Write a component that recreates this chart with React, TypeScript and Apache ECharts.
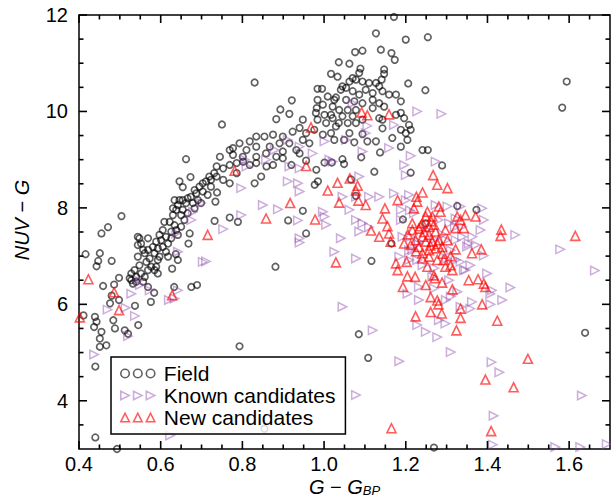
import React, { useEffect, useRef } from 'react';
import * as echarts from 'echarts';

const FONT = '"Liberation Sans", Arial, Helvetica, sans-serif';

// axis ranges and tick values
const X_MIN = 0.4;
const X_MAX = 1.7;
const Y_MIN = 3;
const Y_MAX = 12;
const xMajorTicks = [0.4, 0.6, 0.8, 1.0, 1.2, 1.4, 1.6];
const xMinorTicks = [0.45, 0.5, 0.55, 0.65, 0.7, 0.75, 0.85, 0.9, 0.95, 1.05, 1.1, 1.15, 1.25, 1.3, 1.35, 1.45, 1.5, 1.55, 1.65];
const yMajorTicks = [4, 6, 8, 10, 12];
const yMinorTicks = [3.5, 4.5, 5, 5.5, 6.5, 7, 7.5, 8.5, 9, 9.5, 10.5, 11, 11.5];

const seriesNames = ['Field', 'Known candidates', 'New candidates'];

// Field stars: [G - G_BP, NUV - G]
const fieldData = [
  [0.830,10.60],[0.750,9.73],[0.662,9.01],[0.893,10.04],[0.921,10.23],[0.883,9.84],[0.915,9.95],[0.984,10.47],[0.995,10.47],[1.017,10.78],[1.036,11.02],[1.033,10.72],[0.984,10.24],[1.009,10.31],[1.029,10.29],[0.982,10.07],[0.997,10.14],[1.021,10.10],[0.980,9.97],[1.001,9.93],[1.021,9.86],[1.029,9.69],[1.005,9.76],[0.984,9.83],[0.948,9.83],[0.940,9.66],[0.923,9.58],[0.956,9.55],[0.976,9.62],[0.997,9.52],[1.025,9.41],[0.899,9.48],[0.875,9.52],[0.854,9.48],[0.834,9.48],[0.818,9.38],[0.793,9.34],[0.777,9.24],[0.745,9.06],[0.769,9.20],[0.810,9.20],[0.834,9.27],[0.867,9.27],[0.891,9.34],[0.915,9.34],[0.948,9.41],[0.964,9.34],[0.899,9.17],[0.858,9.13],[0.834,9.06],[0.801,9.06],[0.777,9.10],[0.883,9.06],[0.932,9.20],
  [1.171,11.96],[1.127,11.62],[1.200,11.49],[1.254,11.54],[1.076,11.23],[1.094,11.26],[1.139,11.28],[1.165,11.21],[1.173,11.07],[1.062,10.99],[1.089,10.89],[1.086,10.80],[1.070,10.69],[1.078,10.66],[1.062,10.62],[1.094,10.62],[1.110,10.59],[1.127,10.59],[1.147,10.87],[1.147,10.78],[1.141,10.66],[1.135,10.52],[1.045,10.52],[1.041,10.45],[1.054,10.49],[1.070,10.42],[1.086,10.35],[1.102,10.45],[1.119,10.38],[1.143,10.42],[1.159,10.35],[1.025,10.24],[1.054,10.24],[1.074,10.21],[1.094,10.17],[1.119,10.24],[1.135,10.17],[1.147,10.10],[1.176,10.35],[1.188,10.21],[1.206,10.58],[1.248,10.44],[1.037,10.03],[1.058,10.03],[1.078,10.03],[1.017,9.93],[1.045,9.90],[1.070,9.90],[1.036,9.76],[1.058,9.76],[1.078,9.76],[1.094,9.83],[1.119,10.07],[1.135,9.86],[1.143,9.83],[1.176,9.93],[1.188,9.97],[1.196,9.86],[1.208,9.72],[1.212,9.62],[1.188,9.62],[1.200,9.55],[1.143,9.65],[1.167,9.45],[1.188,9.27],[1.204,9.41],[1.127,9.38],[1.106,9.38],[1.074,9.36],[1.062,9.55],[1.094,9.53],[1.017,9.55],[1.049,9.41],[1.137,9.15],[1.241,9.20],[1.254,9.20],[1.091,9.05],[1.045,9.01],[1.594,10.62],[1.583,10.08],
  [0.956,8.98],[0.940,9.13],[0.737,8.86],[0.753,8.82],[0.769,8.89],[0.786,8.93],[0.802,8.96],[0.818,8.89],[0.834,8.93],[0.859,8.86],[0.737,8.65],[0.753,8.58],[0.769,8.51],[0.786,8.72],[0.830,8.51],[0.846,8.65],[0.875,8.89],[0.899,9.03],[0.920,8.89],[0.981,8.79],[1.001,8.94],[0.985,8.55],[0.977,8.48],[0.948,7.94],[0.956,7.47],[0.912,7.74],[0.881,6.78],[0.769,7.80],[0.789,7.71],
  [1.019,8.94],[1.049,8.91],[1.123,8.75],[1.212,8.73],[1.289,8.88],[1.066,8.59],[1.078,8.25],[1.193,7.76],[1.326,8.04],[1.373,7.96],[1.165,7.26],[1.116,6.90],[1.249,7.68],[1.085,5.38],[1.108,4.89],[1.639,5.41],[1.269,3.03],
  [0.673,8.64],[0.646,8.55],[0.654,8.43],[0.504,7.83],[0.471,7.60],[0.455,7.47],[0.416,7.04],[0.451,7.06],[0.447,6.90],[0.443,6.79],[0.480,6.90],[0.498,6.55],[0.459,6.38],[0.486,6.41],[0.480,6.18],[0.476,6.02],[0.498,6.09],[0.537,5.97],[0.576,6.05],[0.584,6.24],[0.633,6.36],[0.675,6.36],[0.689,6.40],[0.628,6.74],[0.671,7.47],[0.668,7.26],[0.732,7.73],[0.738,8.32],[0.734,8.13],
  [0.528,6.64],[0.536,6.71],[0.524,6.54],[0.540,6.57],[0.552,6.64],[0.548,6.81],[0.540,6.47],[0.557,6.47],[0.561,6.57],[0.569,6.71],[0.565,6.88],[0.573,6.95],[0.561,7.06],[0.569,7.13],[0.544,6.99],[0.577,6.78],[0.589,6.78],[0.593,6.92],[0.585,7.06],[0.581,7.19],[0.589,7.30],[0.601,7.33],[0.597,7.44],[0.605,7.19],[0.613,7.09],[0.618,6.99],[0.597,6.99],[0.593,7.16],[0.605,7.54],[0.613,7.40],[0.618,7.26],[0.626,7.37],[0.626,7.51],[0.634,7.64],[0.622,7.71],[0.609,7.71],[0.630,7.85],[0.638,7.96],[0.630,7.99],[0.642,8.06],[0.650,7.85],[0.638,7.54],[0.642,7.44],[0.650,7.61],[0.658,7.75],[0.654,7.96],[0.662,8.10],[0.666,8.20],[0.674,8.23],[0.679,8.10],[0.687,8.30],[0.691,8.16],[0.683,8.37],[0.695,8.44],[0.703,8.34],[0.703,8.51],[0.711,8.55],[0.719,8.65],[0.723,8.58],[0.731,8.72],[0.723,8.44],[0.715,8.27],[0.699,8.10],[0.683,7.99],[0.666,7.89],[0.654,8.16],[0.646,8.16],[0.634,8.16],[0.544,7.40],[0.544,7.23],[0.548,7.37],[0.569,7.37],[0.552,7.26],[0.557,7.13],[0.528,6.50],[0.532,6.43],[0.569,6.36],[0.585,6.71],[0.593,6.64],
  [0.411,5.77],[0.439,5.74],[0.443,5.64],[0.437,5.53],[0.455,5.43],[0.451,5.29],[0.467,5.15],[0.451,5.12],[0.484,5.67],[0.488,5.50],[0.512,5.46],[0.545,5.57],[0.520,5.39],[0.440,4.71],[0.440,3.24],[0.793,5.13],[0.854,3.42],[0.493,3.00],[0.642,6.92],[0.637,7.04],
];

// Known candidates
const knownData = [
  [0.437,4.96],[0.520,5.34],[0.537,5.76],[0.514,5.93],[0.470,5.89],[0.623,3.28],[0.620,6.09],
  [0.545,6.50],[0.549,6.40],[0.528,6.22],[0.573,6.29],[0.642,7.09],[0.638,7.47],[0.675,7.75],[0.679,7.92],[0.699,8.10],[0.703,6.88],[0.711,6.89],[0.642,6.29],[0.634,6.12],
  [0.806,9.00],[0.858,9.00],[0.972,9.13],[0.797,8.41],[0.850,8.06],[0.887,7.97],[0.911,8.55],[0.936,8.51],[0.940,8.34],[0.936,7.74],[0.797,7.85],[0.753,7.56],[0.997,7.92],[1.001,7.82],[1.005,7.65],[0.940,7.37],[0.940,7.28],[1.025,7.09],
  [0.879,9.20],[0.911,9.41],[0.940,9.27],[1.001,9.38],[1.054,9.41],[0.915,8.86],[0.940,8.82],[0.810,8.86],[1.021,8.96],
  [1.228,10.00],[1.287,9.95],[1.106,9.70],[1.171,9.72],[1.159,9.24],[1.094,9.17],[1.212,9.08],[1.070,10.17],[1.102,9.55],[1.013,9.00],[1.086,8.65],[1.196,8.89],[1.200,8.68],[1.273,8.96],[1.045,8.23],[1.110,8.23],[1.135,8.23],[1.171,8.30],[1.208,8.27],
  [1.078,8.23],[1.200,8.16],[1.062,7.96],[1.078,7.75],[1.094,7.68],[1.086,7.51],[1.041,7.37],[1.078,6.95],[1.188,7.96],[1.188,7.75],[1.273,8.06],[1.302,8.03],[1.334,8.03],[1.387,7.99],[1.391,7.75],[1.383,7.54],[1.468,7.44],[1.578,7.14],[1.663,6.70],[1.371,7.23],[1.391,7.01],[1.346,6.71],[1.399,6.64],[1.456,6.35],[1.411,6.29],[1.436,6.09],[1.407,6.00],[1.232,6.09],[1.204,6.22],[1.045,5.95],[1.192,7.40],[1.208,7.12],[1.184,6.99],[1.228,6.92],[1.241,6.81],[1.322,7.33],[1.338,7.40],[1.310,7.12],[1.334,6.88],[1.358,6.81],[1.306,6.50],[1.326,6.26],[1.362,6.05],[1.281,7.75],[1.306,7.68],[1.110,7.60],[1.210,7.95],[1.320,7.60],[1.250,7.55],[1.270,7.35],[1.290,7.45],[1.230,7.25],[1.350,7.20],[1.300,6.95],[1.270,6.75],
  [1.220,7.89],[1.212,7.40],[1.232,7.30],[1.216,7.12],[1.208,6.92],[1.342,6.71],[1.407,6.22],[1.298,6.09],[1.310,6.16],[1.334,5.95],[1.269,6.33],[1.232,6.36],[1.322,7.78],[1.338,7.61],[1.363,7.40],[1.354,7.26],[1.298,7.33],[1.322,6.92],[1.265,6.57],
  [1.119,5.46],[1.228,5.57],[1.249,5.43],[1.277,5.32],[1.281,5.67],[1.297,5.60],[1.310,5.01],[1.184,4.82],[1.078,4.12],[1.410,4.80],[1.429,4.59],[1.415,3.69],[1.413,3.09],[1.631,4.11],[1.566,3.04],[1.627,3.04],[1.692,3.10],[1.358,5.91],
];

// New candidates
const newData = [
  [0.402,5.73],[0.423,6.52],[0.486,6.25],[0.498,5.88],[0.628,6.19],[0.715,7.44],[0.781,8.77],[0.968,9.67],[0.858,7.78],[0.917,8.10],[0.978,7.76],[0.956,8.87],[1.009,8.36],[1.033,8.52],[1.037,8.11],[1.029,6.87],[1.092,9.98],[1.106,9.92],[1.159,9.94],
  [1.063,8.61],[1.082,8.46],[1.078,8.36],[1.084,8.15],[1.102,8.06],
  [1.267,8.68],[1.277,8.48],[1.302,8.41],[1.180,8.16],[1.149,7.99],[1.143,7.78],[1.155,7.62],[1.115,7.53],[1.135,7.40],[1.159,7.47],[1.163,7.30],[1.176,6.85],[1.180,6.71],[1.204,6.58],[1.223,6.57],[1.193,6.36],[1.202,6.88],[1.196,7.26],[1.212,7.23],[1.226,8.23],[1.241,8.32],[1.228,8.13],[1.220,7.99],[1.253,7.92],[1.249,7.82],[1.265,7.82],[1.281,8.03],[1.285,7.92],[1.216,7.68],[1.216,7.54],[1.232,7.57],[1.241,7.68],[1.257,7.61],[1.269,7.65],[1.273,7.51],[1.257,7.44],[1.241,7.40],[1.224,7.33],[1.249,7.30],[1.265,7.30],[1.281,7.33],[1.297,7.54],[1.302,7.33],[1.289,7.19],[1.273,7.16],[1.257,7.12],[1.241,7.06],[1.232,7.19],[1.257,6.99],[1.277,6.92],[1.293,6.92],[1.297,6.78],[1.310,6.81],[1.314,6.71],[1.253,6.78],[1.269,6.60],[1.271,6.54],[1.289,6.45],[1.322,7.58],[1.326,7.82],[1.334,7.75],[1.342,7.58],[1.346,7.85],[1.371,7.82],[1.322,7.14],[1.362,7.06],[1.385,7.14],[1.434,7.55],[1.432,7.42],[1.615,7.42],[1.354,6.50],[1.377,6.52],[1.391,6.43],[1.395,6.36],[1.314,6.31],[1.249,6.40],[1.261,6.15],[1.277,6.08],[1.334,5.91],[1.387,6.00],[1.280,6.00],
  [1.245,7.50],[1.262,7.72],[1.236,7.62],[1.278,7.25],[1.225,7.10],[1.310,7.00],[1.240,6.95],[1.290,7.05],[1.205,7.45],[1.260,7.22],
  [1.224,5.75],[1.261,5.84],[1.288,5.81],[1.334,5.72],[1.324,5.46],[1.424,5.66],[1.499,4.87],[1.395,4.44],[1.464,4.28],[1.165,3.43],[1.409,3.37],
];

const FIELD_COLOR = 'rgba(0,0,0,0.78)';
const KNOWN_COLOR = 'rgba(140,70,170,0.55)';
const NEW_COLOR = 'rgba(255,0,0,0.8)';
const TICK_COLOR = '#000';
const TICK_WIDTH = 1.6;
const MAJOR_LEN = 8;
const MINOR_LEN = 4.5;

// legend icons: three symbols each
const circleIcon =
  'path://M0,4.25A4.25,4.25 0 1,0 8.5,4.25A4.25,4.25 0 1,0 0,4.25Z' +
  'M12.75,4.25A4.25,4.25 0 1,0 21.25,4.25A4.25,4.25 0 1,0 12.75,4.25Z' +
  'M25.5,4.25A4.25,4.25 0 1,0 34,4.25A4.25,4.25 0 1,0 25.5,4.25Z';
const rightTriIcon =
  'path://M0,0L8.5,4.25L0,8.5Z M12.75,0L21.25,4.25L12.75,8.5Z M25.5,0L34,4.25L25.5,8.5Z';
const upTriIcon =
  'path://M4.25,0L8.5,8.5L0,8.5Z M17,0L21.25,8.5L12.75,8.5Z M29.75,0L34,8.5L25.5,8.5Z';

export default function App() {
  const ref = useRef<HTMLDivElement>(null);

  useEffect(() => {
    if (!ref.current) return;
    const chart = echarts.init(ref.current, null, { renderer: 'svg', width: 611, height: 497 });

    const option: any = {
      animation: false,
      backgroundColor: '#fff',
      grid: {
        left: 79, right: 1, top: 15, bottom: 48,
        containLabel: false, outerBoundsMode: 'none',
        show: true, borderColor: '#000', borderWidth: 1.5, backgroundColor: 'transparent',
      },
      xAxis: {
        type: 'value', min: X_MIN, max: X_MAX, interval: 0.2,
        splitLine: { show: false },
        axisLine: { show: false, onZero: false },
        axisTick: { show: false },
        axisLabel: {
          fontFamily: FONT, fontSize: 20, color: '#000', margin: 5, showMaxLabel: false,
          formatter: (v: number) => (v > 1.65 ? '' : v.toFixed(1)),
        },
        name: '{i|G} − {i|G}{sub|BP}',
        nameLocation: 'middle',
        nameGap: 28,
        nameMoveOverlap: false,
        nameTextStyle: {
          fontFamily: FONT, fontSize: 20, color: '#000', lineHeight: 20,
          rich: {
            i: { fontFamily: FONT, fontSize: 20, fontStyle: 'italic', color: '#000', lineHeight: 20 },
            sub: { fontFamily: FONT, fontSize: 13, fontStyle: 'italic', color: '#000', lineHeight: 8, verticalAlign: 'bottom' },
          },
        },
      },
      yAxis: {
        type: 'value', min: Y_MIN, max: Y_MAX, interval: 1,
        splitLine: { show: false },
        axisLine: { show: false, onZero: false },
        axisTick: { show: false },
        axisLabel: {
          fontFamily: FONT, fontSize: 20, color: '#000', margin: 11,
          formatter: (v: number) => (Math.round(v) % 2 === 0 ? String(v) : ''),
        },
        name: '{i|NUV} − {i|G}',
        nameLocation: 'middle',
        nameGap: 47,
        nameMoveOverlap: false,
        nameTextStyle: {
          fontFamily: FONT, fontSize: 20, color: '#000', padding: [0, 0, 0, 24],
          rich: { i: { fontFamily: FONT, fontSize: 20, fontStyle: 'italic', color: '#000' } },
        },
      },
      legend: {
        left: 111,
        top: 357,
        orient: 'vertical',
        selectedMode: false,
        backgroundColor: 'rgba(255,255,255,0.8)',
        borderColor: '#000',
        borderWidth: 1.5,
        borderRadius: 0,
        padding: [6, 10, 6, 9],
        itemGap: 1,
        itemWidth: 34,
        itemHeight: 8.5,
        itemStyle: { borderWidth: 1.6 },
        textStyle: { fontFamily: FONT, fontSize: 21, color: '#000', lineHeight: 21, padding: [0, 0, 0, 4] },
        z: 20,
        data: [
          { name: seriesNames[0], icon: circleIcon },
          { name: seriesNames[1], icon: rightTriIcon },
          { name: seriesNames[2], icon: upTriIcon },
        ],
      },
      series: [
        {
          type: 'scatter', name: seriesNames[0], data: fieldData,
          symbol: 'circle', symbolSize: 6.5, clip: true, z: 2,
          itemStyle: { color: 'transparent', borderColor: FIELD_COLOR, borderWidth: 1.7 },
          emphasis: { disabled: true },
        },
        {
          type: 'scatter', name: seriesNames[1], data: knownData,
          symbol: 'triangle', symbolRotate: -90, symbolSize: 8.5, clip: true, z: 3,
          itemStyle: { color: 'transparent', borderColor: KNOWN_COLOR, borderWidth: 1.5 },
          emphasis: { disabled: true },
        },
        {
          type: 'scatter', name: seriesNames[2], data: newData,
          symbol: 'triangle', symbolSize: 9, clip: true, z: 4,
          itemStyle: { color: 'transparent', borderColor: NEW_COLOR, borderWidth: 1.6 },
          emphasis: { disabled: true },
        },
      ],
    };

    chart.setOption(option);

    // inward ticks on all four sides, positioned through the chart's own scales
    const px = (v: number[]) => chart.convertToPixel({ gridIndex: 0 }, v) as unknown as number[];
    const tickLines: any[] = [];
    const half = TICK_WIDTH / 2;
    const addTick = (x: number, y: number, w: number, h: number) =>
      tickLines.push({ type: 'rect', z: 100, silent: true, shape: { x, y, width: w, height: h }, style: { fill: TICK_COLOR } });
    const xTicks = [...xMajorTicks.map((v) => [v, MAJOR_LEN]), ...xMinorTicks.map((v) => [v, MINOR_LEN])];
    const yTicks = [...yMajorTicks.map((v) => [v, MAJOR_LEN]), ...yMinorTicks.map((v) => [v, MINOR_LEN])];
    xTicks.forEach(([v, len]) => {
      const b = px([v, Y_MIN]);
      const t = px([v, Y_MAX]);
      addTick(b[0] - half, b[1] - len, TICK_WIDTH, len);
      addTick(t[0] - half, t[1], TICK_WIDTH, len);
    });
    yTicks.forEach(([v, len]) => {
      const l = px([X_MIN, v]);
      const r = px([X_MAX, v]);
      addTick(l[0], l[1] - half, len, TICK_WIDTH);
      addTick(r[0] - len, r[1] - half, len, TICK_WIDTH);
    });
    chart.setOption({ graphic: tickLines });

    return () => chart.dispose();
  }, []);

  return (
    <div
      ref={ref}
      style={{ position: 'fixed', left: 0, top: 0, width: 611, height: 497, background: '#fff' }}
    />
  );
}
